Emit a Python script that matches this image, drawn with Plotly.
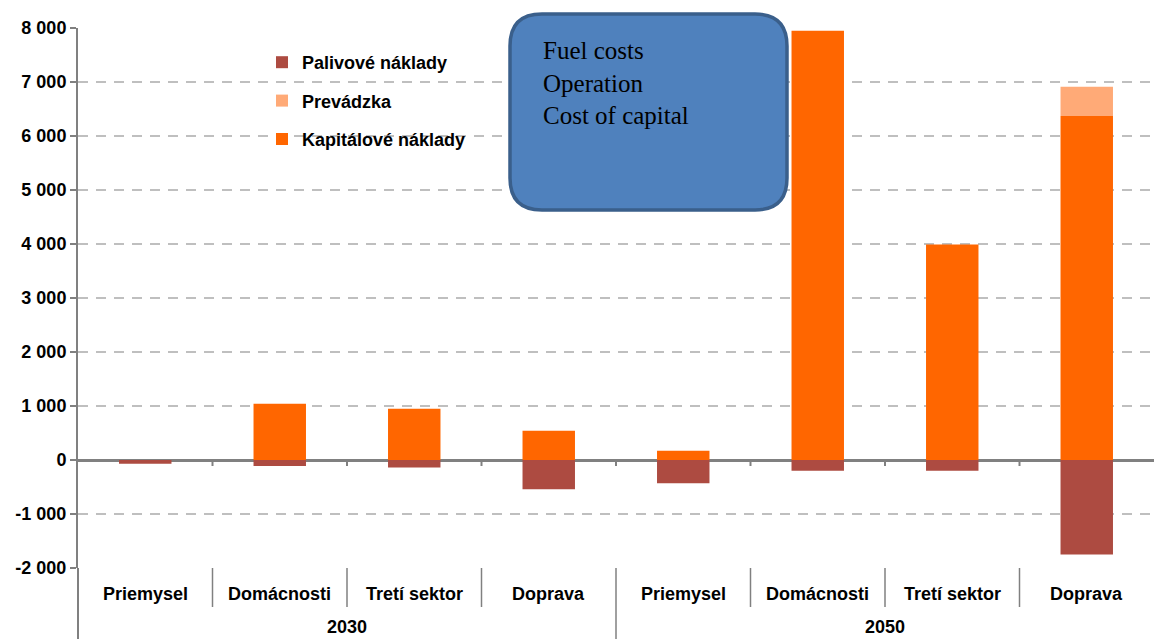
import plotly.graph_objects as go

# ---- data ----
years = ["2030", "2030", "2030", "2030", "2050", "2050", "2050", "2050"]
sectors = ["Priemysel", "Domácnosti", "Tretí sektor", "Doprava",
           "Priemysel", "Domácnosti", "Tretí sektor", "Doprava"]
fuel_costs = [-70, -110, -140, -540, -430, -200, -200, -1750]
operation = [0, 0, 0, 0, 0, 0, 0, 540]
capital_costs = [0, 1040, 950, 540, 170, 7950, 3990, 6370]
year_labels = ["2030", "2050"]
y_tickvals = [-2000, -1000, 0, 1000, 2000, 3000, 4000, 5000, 6000, 7000, 8000]
y_ticktext = ["-2 000", "-1 000", "0", "1 000", "2 000", "3 000", "4 000",
              "5 000", "6 000", "7 000", "8 000"]
box_lines = ["Fuel costs", "Operation", "Cost of capital"]

# ---- layout constants ----
W, H = 1154, 639
ML, MR, MT, MB = 78, 0, 28, 71
PW, PH = W - ML - MR, H - MT - MB
FONT = "Liberation Sans, Arial, sans-serif"
GRAY = "#808080"

def px(x):
    return (x - ML) / PW

def py(y):
    return (H - MB - y) / PH

xs = list(range(len(sectors)))

fig = go.Figure()
fig.add_trace(go.Bar(x=xs, y=capital_costs, name="Kapitálové náklady",
                     marker=dict(color="#FF6600", line=dict(width=0)),
                     width=0.39, legendgroup="c", legendrank=3))
fig.add_trace(go.Bar(x=xs, y=operation, name="Prevádzka",
                     marker=dict(color="#FFAA77", line=dict(width=0)),
                     width=0.39, legendgroup="o", legendrank=2))
fig.add_trace(go.Bar(x=xs, y=fuel_costs, name="Palivové náklady",
                     marker=dict(color="#AD4B41", line=dict(width=0)),
                     width=0.39, legendgroup="f", legendrank=1))

shapes = []
# small ticks on the zero line between categories
for k in range(len(sectors) - 1):
    shapes.append(dict(type="line", xref="x", yref="y", x0=k + 0.5, x1=k + 0.5,
                       ysizemode="pixel", yanchor=0, y0=0, y1=-6,
                       line=dict(color=GRAY, width=2)))
# separators below the plot
n_per_year = len(sectors) // len(year_labels)
for k in range(len(sectors) - 1):
    is_year = (k + 1) % n_per_year == 0
    shapes.append(dict(type="line", xref="x", yref="paper", x0=k + 0.5, x1=k + 0.5,
                       ysizemode="pixel", yanchor=0, y0=0, y1=-(MB if is_year else 39),
                       line=dict(color=GRAY, width=1.5)))
# left axis extension
shapes.append(dict(type="line", xref="paper", yref="paper", x0=0, x1=0,
                   ysizemode="pixel", yanchor=0, y0=0, y1=-MB,
                   line=dict(color=GRAY, width=2)))

# rounded text box
bx0, bx1, by0, by1, r = 510, 787, 14, 210, 32
X0, X1 = px(bx0), px(bx1)
Yt, Yb = py(by0), py(by1)
rx, ry = r / PW, r / PH
path = (f"M{X0+rx},{Yt} L{X1-rx},{Yt} Q{X1},{Yt} {X1},{Yt-ry} "
        f"L{X1},{Yb+ry} Q{X1},{Yb} {X1-rx},{Yb} "
        f"L{X0+rx},{Yb} Q{X0},{Yb} {X0},{Yb+ry} "
        f"L{X0},{Yt-ry} Q{X0},{Yt} {X0+rx},{Yt} Z")
shapes.append(dict(type="path", xref="paper", yref="paper", path=path,
                   fillcolor="#4F81BD", line=dict(color="#3A5F8B", width=3.5),
                   layer="above"))

annotations = []
for i, s in enumerate(sectors):
    annotations.append(dict(x=xs[i], y=0, xref="x", yref="paper", text=s,
                            showarrow=False, yanchor="middle", yshift=-26,
                            font=dict(family=FONT, size=18, color="black", weight="bold")))
for j, yl in enumerate(year_labels):
    cx = (j * n_per_year + (j + 1) * n_per_year - 1) / 2
    annotations.append(dict(x=cx, y=0, xref="x", yref="paper", text=yl,
                            showarrow=False, yanchor="middle", yshift=-59,
                            font=dict(family=FONT, size=18, color="black", weight="bold")))
annotations.append(dict(x=px(541), y=py(35), xref="paper", yref="paper",
                        xanchor="left", yanchor="top", align="left",
                        text="<br>".join(box_lines), showarrow=False,
                        font=dict(family="Liberation Serif, Times New Roman, serif",
                                  size=25, color="black")))

fig.update_layout(
    width=W, height=H,
    margin=dict(l=ML, r=MR, t=MT, b=MB),
    paper_bgcolor="white", plot_bgcolor="white",
    barmode="relative",
    showlegend=True,
    legend=dict(x=px(262), y=py(44), xanchor="left", yanchor="top",
                bgcolor="rgba(0,0,0,0)", traceorder="grouped",
                tracegroupgap=12, itemwidth=30,
                font=dict(family=FONT, size=18, color="black", weight="bold")),
    xaxis=dict(range=[-0.5, len(sectors) - 0.5], showticklabels=False,
               showgrid=False, zeroline=False, showline=False, ticks=""),
    yaxis=dict(range=[-2000, 8000], tickvals=y_tickvals, ticktext=y_ticktext,
               showgrid=True, gridcolor="#BFBFBF", gridwidth=2, griddash="10px,8px",
               zeroline=True, zerolinecolor=GRAY, zerolinewidth=2.5,
               showline=True, linecolor=GRAY, linewidth=2,
               ticks="outside", ticklen=6, tickcolor=GRAY, tickwidth=2,
               tickfont=dict(family=FONT, size=18, color="black", weight="bold")),
    shapes=shapes,
    annotations=annotations,
)

fig.write_html("out.html", config={"displayModeBar": False},
               post_script="document.body.style.margin='0';document.body.style.overflow='hidden';")
